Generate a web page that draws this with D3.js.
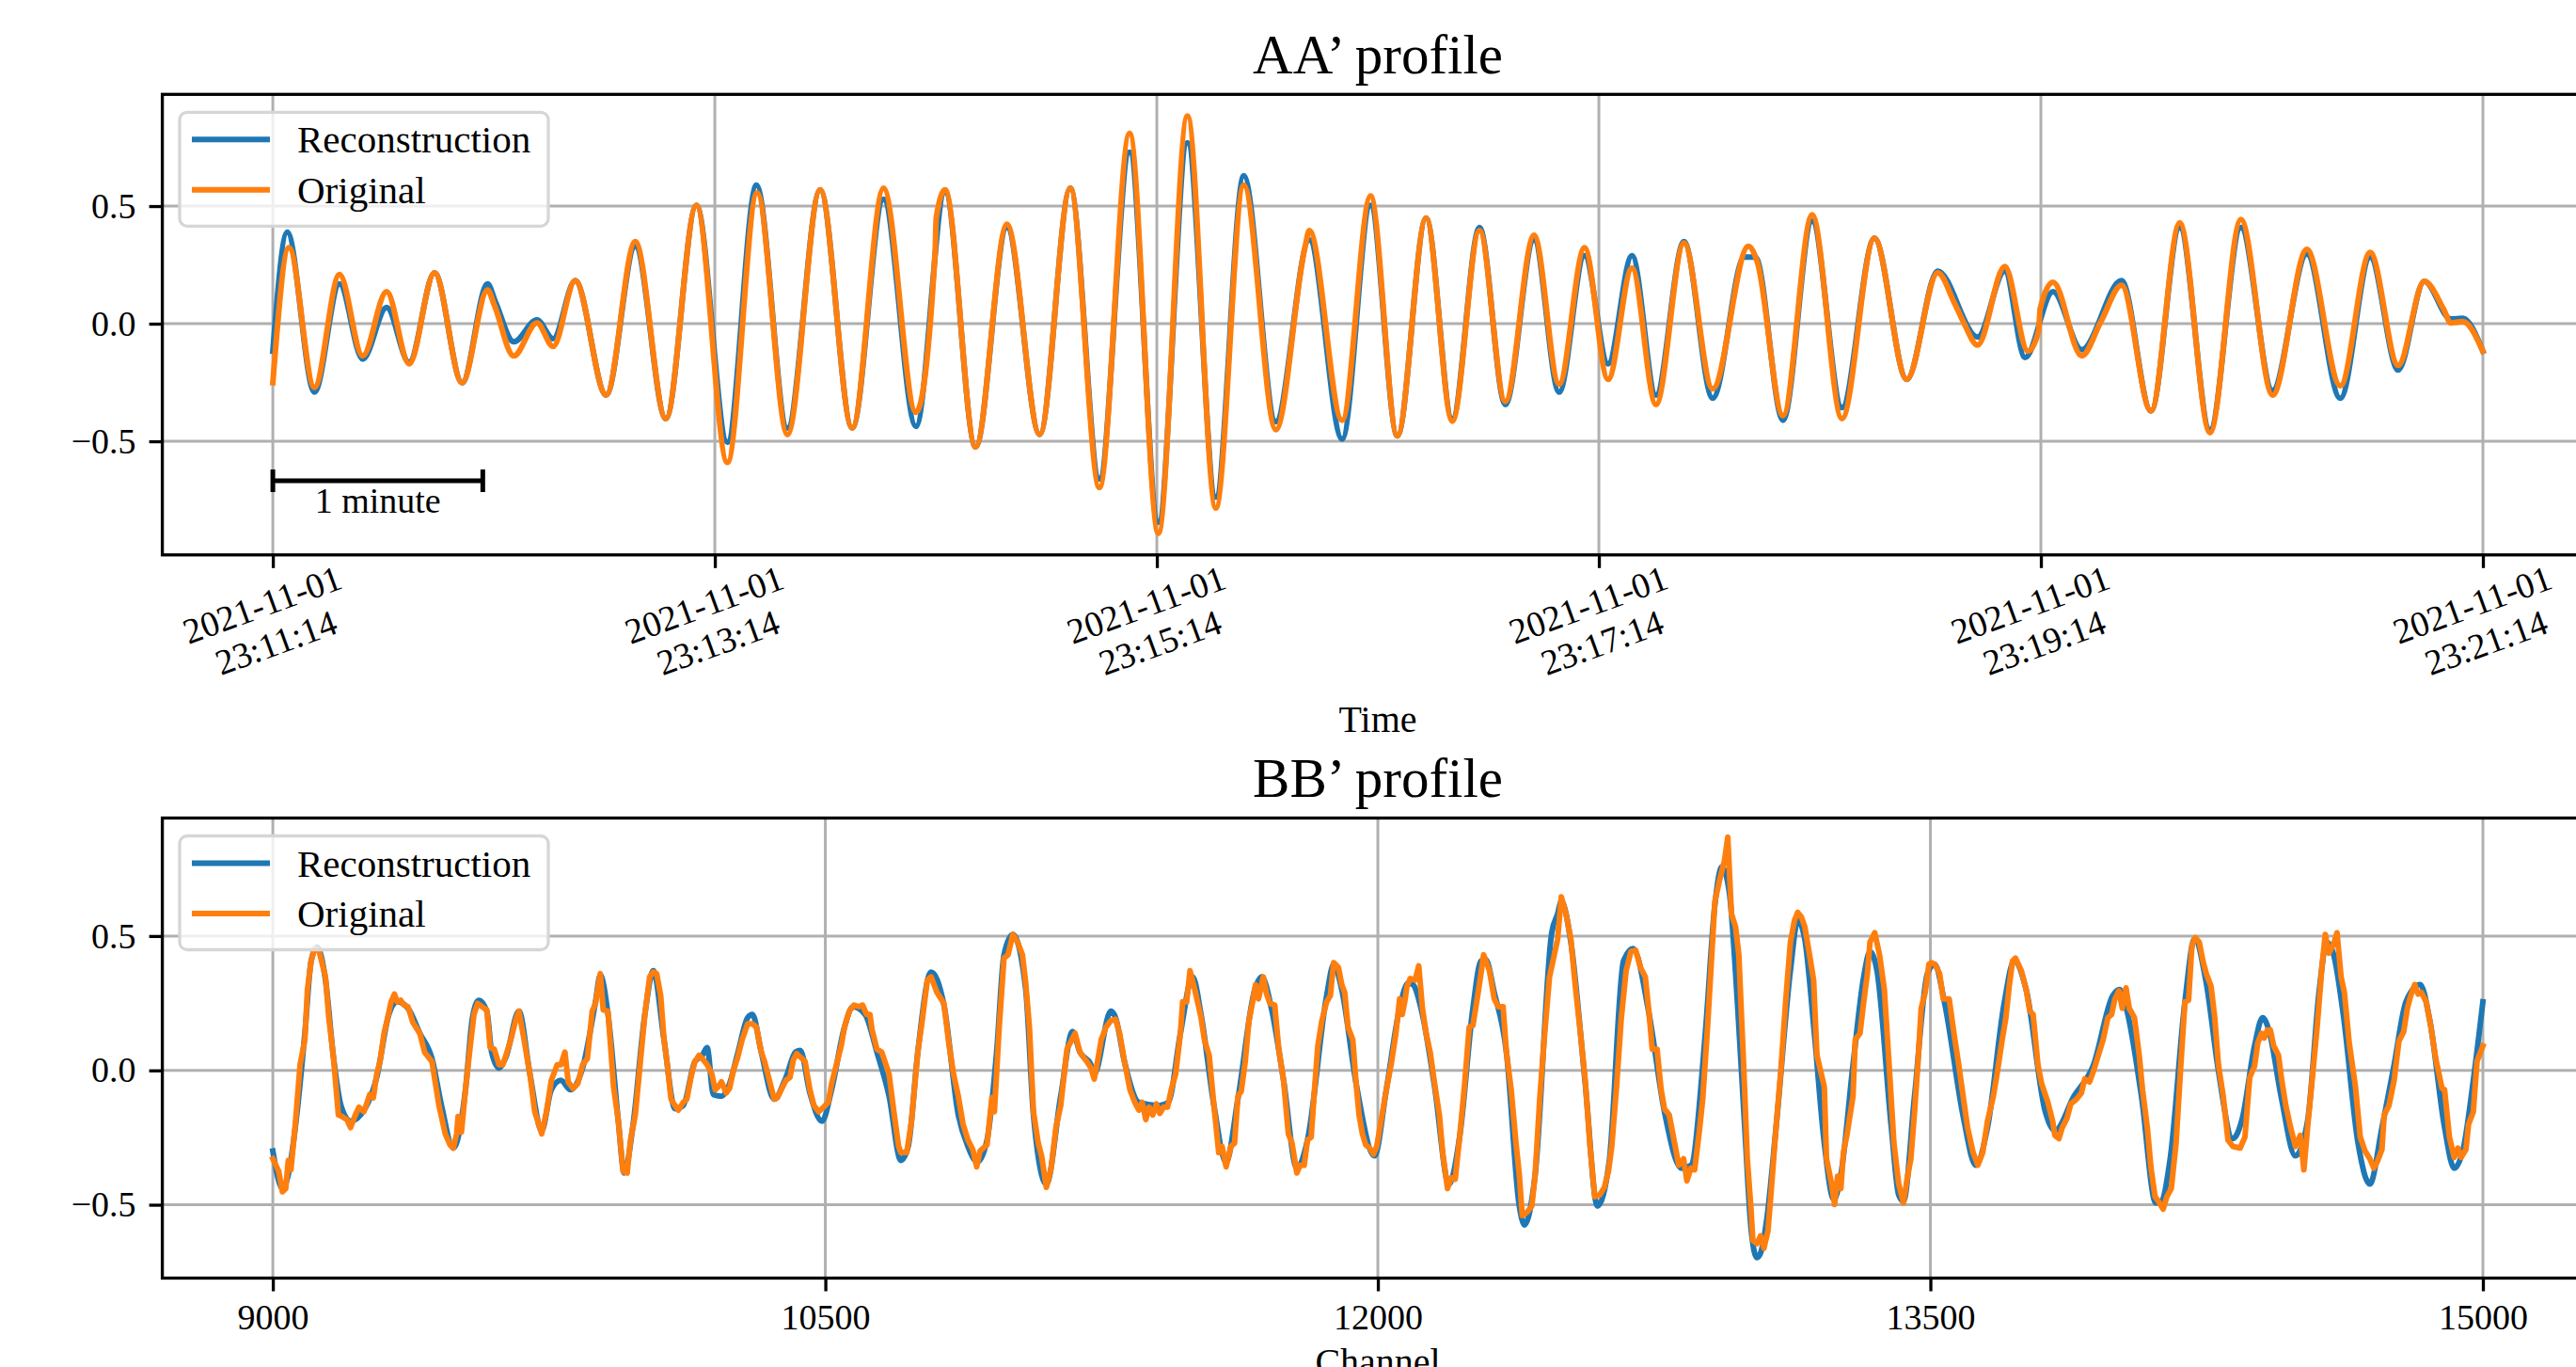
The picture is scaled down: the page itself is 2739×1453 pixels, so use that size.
<!DOCTYPE html>
<html>
<head>
<meta charset="utf-8">
<script src="https://cdn.jsdelivr.net/npm/d3@7"></script>
<style>
  html, body { margin: 0; padding: 0; background: #fff; }
  svg { display: block; }
  text { font-family: 'Liberation Serif', 'Times New Roman', serif; fill: #000; }
</style>
</head>
<body>
<div id="body"></div>
<script>
// ---- data ----
const startTime = new Date(2021, 10, 1, 23, 11, 14);
const seriesNames = ['Reconstruction', 'Original'];
const seriesColors = ['#1f77b4', '#ff7f0e'];
const yTickValues = [-0.5, 0, 0.5];
const aaTickSeconds = [0, 120, 240, 360, 480, 600];
const bbTickChannels = [9000, 10500, 12000, 13500, 15000];
const scaleBarSeconds = 57;
const scaleBarLabel = '1 minute';

// AA' profile: [seconds after start, amplitude]
const aaOriginal = [[0,-0.251],[4.4,0.323],[11.3,-0.271],[18.1,0.209],[24.4,-0.137],[30.9,0.136],[37.0,-0.171],[43.9,0.216],[51.4,-0.251],[58.3,0.143],[60.2,0.076],[65.4,-0.137],[71.7,0.003],[76.1,-0.097],[82.1,0.183],[90.5,-0.303],[98.4,0.349],[106.7,-0.404],[115.0,0.503],[123.4,-0.590],[131.5,0.556],[139.7,-0.472],[148.6,0.569],[157.3,-0.444],[165.8,0.576],[174.6,-0.377],[179.8,0.303],[180.1,0.449],[182.5,0.569],[190.8,-0.524],[199.3,0.423],[208.2,-0.471],[216.5,0.576],[224.4,-0.697],[232.6,0.809],[240.4,-0.891],[248.3,0.883],[256.0,-0.784],[263.6,0.589],[272.3,-0.451],[280.1,0.316],[281.4,0.396],[290.3,-0.411],[298.0,0.543],[305.3,-0.477],[313.1,0.449],[320.2,-0.415],[327.6,0.396],[334.6,-0.331],[342.4,0.376],[349.2,-0.257],[356.1,0.323],[362.5,-0.237],[369.0,0.236],[375.5,-0.344],[383.1,0.343],[390.9,-0.277],[400.6,0.329],[403.0,0.263],[410.0,-0.391],[417.9,0.463],[426.0,-0.404],[434.8,0.363],[443.6,-0.237],[452.0,0.216],[456.5,0.089],[459.1,0.003],[462.8,-0.091],[470.2,0.243],[476.5,-0.117],[479.4,-0.03],[479.8,0.063],[483.3,0.176],[491.1,-0.137],[496.3,0.009],[501.9,0.163],[509.9,-0.371],[517.7,0.429],[525.9,-0.464],[534.3,0.443],[542.9,-0.304],[552.2,0.316],[561.3,-0.264],[569.4,0.303],[577.0,-0.177],[584.1,0.180],[589.3,0.063],[591.3,0.003],[594.5,0.009],[600,-0.117]];

const aaReconstruction = [[0,-0.117],[3.9,0.389],[11.3,-0.291],[18.1,0.169],[24.4,-0.151],[30.9,0.069],[37.0,-0.164],[43.9,0.216],[51.4,-0.251],[58.3,0.169],[60.5,0.09],[65.4,-0.077],[71.7,0.016],[76.1,-0.064],[82.1,0.183],[90.5,-0.303],[98.4,0.329],[106.7,-0.404],[115.0,0.503],[123.4,-0.504],[131.3,0.589],[139.7,-0.444],[148.6,0.569],[157.3,-0.444],[165.8,0.529],[174.6,-0.437],[182.5,0.56],[190.8,-0.524],[199.3,0.41],[208.2,-0.471],[216.5,0.576],[224.4,-0.66],[232.6,0.729],[240.4,-0.844],[248.3,0.769],[256.0,-0.737],[263.6,0.629],[272.3,-0.417],[281.4,0.356],[290.3,-0.491],[298.0,0.503],[305.3,-0.477],[313.1,0.449],[320.2,-0.405],[327.6,0.409],[334.6,-0.344],[342.4,0.356],[349.2,-0.291],[356.1,0.289],[362.5,-0.171],[369.0,0.289],[375.5,-0.304],[383.1,0.349],[390.9,-0.317],[399.5,0.283],[402.5,0.283],[410.0,-0.411],[417.9,0.436],[426.0,-0.357],[434.8,0.363],[443.6,-0.237],[452.0,0.223],[462.8,-0.057],[470.2,0.223],[475.7,-0.144],[483.3,0.136],[491.1,-0.111],[501.9,0.183],[509.9,-0.371],[517.7,0.409],[525.9,-0.451],[534.3,0.409],[542.9,-0.284],[552.2,0.296],[561.3,-0.317],[569.4,0.283],[577.0,-0.197],[584.1,0.180],[591.3,0.02],[594.5,0.023],[600,-0.117]];

// BB' profile: [channel, amplitude]
const bbOriginal = [[9000,-0.329],[9016,-0.376],[9026,-0.452],[9035,-0.440],[9042,-0.335],[9049,-0.370],[9061,-0.201],[9074,0.021],[9087,0.114],[9094,0.301],[9104,0.407],[9113,0.453],[9126,0.442],[9143,0.348],[9152,0.196],[9165,0.044],[9178,-0.166],[9188,-0.172],[9201,-0.183],[9211,-0.213],[9224,-0.166],[9234,-0.137],[9247,-0.154],[9256,-0.119],[9263,-0.090],[9273,-0.102],[9282,-0.014],[9291,0.033],[9302,0.138],[9312,0.196],[9321,0.255],[9330,0.284],[9338,0.255],[9347,0.261],[9356,0.243],[9367,0.237],[9380,0.179],[9399,0.138],[9412,0.068],[9432,0.033],[9451,-0.131],[9468,-0.236],[9481,-0.277],[9490,-0.289],[9499,-0.236],[9503,-0.172],[9512,-0.230],[9523,-0.072],[9536,0.091],[9546,0.208],[9556,0.249],[9568,0.237],[9581,0.225],[9590,0.085],[9601,0.079],[9614,0.021],[9624,0.021],[9633,0.056],[9646,0.114],[9659,0.185],[9668,0.220],[9679,0.138],[9698,-0.014],[9711,-0.154],[9730,-0.236],[9743,-0.154],[9756,-0.037],[9772,0.021],[9782,0.021],[9793,0.068],[9802,-0.043],[9815,-0.067],[9828,-0.049],[9841,0.021],[9854,0.044],[9867,0.220],[9876,0.249],[9889,0.360],[9897,0.225],[9910,0.220],[9925,-0.061],[9938,-0.189],[9951,-0.376],[9962,-0.382],[9971,-0.259],[9984,-0.166],[9997,0.021],[10010,0.208],[10023,0.348],[10033,0.366],[10042,0.360],[10053,0.278],[10062,0.114],[10071,0.021],[10081,-0.107],[10092,-0.131],[10101,-0.148],[10114,-0.119],[10124,-0.107],[10136,-0.020],[10146,0.033],[10157,0.056],[10166,0.044],[10179,0.021],[10192,-0.014],[10201,-0.072],[10209,-0.061],[10218,-0.043],[10231,-0.084],[10240,-0.067],[10250,-0.002],[10261,0.044],[10274,0.114],[10289,0.173],[10302,0.173],[10313,0.161],[10326,0.068],[10335,0.033],[10348,-0.037],[10361,-0.107],[10370,-0.102],[10380,-0.072],[10393,-0.037],[10404,-0.026],[10413,0.039],[10422,0.062],[10432,0.050],[10445,0.033],[10458,-0.072],[10469,-0.131],[10482,-0.154],[10495,-0.137],[10508,-0.119],[10517,-0.049],[10530,0.021],[10543,0.091],[10552,0.161],[10565,0.220],[10578,0.243],[10591,0.237],[10601,0.243],[10612,0.208],[10621,0.208],[10627,0.150],[10640,0.079],[10653,0.068],[10673,-0.014],[10686,-0.154],[10699,-0.283],[10705,-0.306],[10721,-0.306],[10734,-0.189],[10751,0.068],[10764,0.196],[10777,0.336],[10787,0.348],[10803,0.290],[10822,0.249],[10835,0.103],[10848,-0.014],[10861,-0.096],[10874,-0.201],[10887,-0.259],[10900,-0.294],[10911,-0.359],[10920,-0.300],[10929,-0.289],[10939,-0.277],[10952,-0.102],[10959,-0.154],[10972,0.161],[10985,0.418],[10996,0.430],[11009,0.506],[11022,0.477],[11035,0.430],[11044,0.325],[11054,0.161],[11065,-0.154],[11078,-0.271],[11087,-0.318],[11100,-0.435],[11113,-0.364],[11126,-0.213],[11139,-0.131],[11156,0.079],[11165,0.103],[11178,0.138],[11191,0.068],[11200,0.050],[11210,0.033],[11221,0.009],[11230,-0.032],[11239,0.033],[11249,0.114],[11262,0.161],[11275,0.185],[11288,0.190],[11299,0.138],[11312,0.033],[11327,-0.072],[11340,-0.119],[11351,-0.148],[11360,-0.119],[11370,-0.183],[11379,-0.137],[11389,-0.166],[11399,-0.125],[11408,-0.160],[11418,-0.137],[11429,-0.137],[11439,-0.072],[11451,-0.014],[11464,0.138],[11470,0.255],[11481,0.255],[11490,0.371],[11503,0.301],[11520,0.196],[11529,0.114],[11542,0.056],[11555,-0.131],[11568,-0.306],[11577,-0.283],[11588,-0.359],[11601,-0.283],[11611,-0.271],[11620,-0.096],[11629,-0.078],[11640,0.033],[11650,0.185],[11660,0.255],[11668,0.319],[11676,0.266],[11689,0.348],[11698,0.284],[11707,0.249],[11720,0.243],[11731,0.079],[11744,-0.037],[11757,-0.236],[11767,-0.271],[11780,-0.382],[11789,-0.353],[11800,-0.353],[11809,-0.259],[11819,-0.248],[11828,-0.072],[11837,0.091],[11848,0.185],[11861,0.255],[11871,0.278],[11880,0.401],[11893,0.383],[11902,0.319],[11910,0.290],[11919,0.161],[11932,0.114],[11941,-0.049],[11949,-0.166],[11958,-0.236],[11967,-0.277],[11978,-0.289],[11988,-0.312],[11997,-0.283],[12010,-0.178],[12023,-0.072],[12036,0.021],[12049,0.138],[12059,0.266],[12066,0.208],[12073,0.255],[12079,0.313],[12088,0.342],[12101,0.336],[12111,0.389],[12121,0.231],[12131,0.138],[12142,0.068],[12154,-0.049],[12167,-0.166],[12176,-0.306],[12189,-0.440],[12199,-0.400],[12210,-0.405],[12222,-0.248],[12235,-0.061],[12248,0.161],[12258,0.167],[12271,0.278],[12280,0.360],[12287,0.430],[12303,0.371],[12316,0.266],[12327,0.237],[12340,0.237],[12349,0.068],[12362,-0.072],[12375,-0.271],[12384,-0.388],[12392,-0.540],[12405,-0.528],[12418,-0.505],[12427,-0.388],[12440,-0.096],[12453,0.138],[12466,0.348],[12479,0.430],[12488,0.488],[12498,0.646],[12511,0.582],[12524,0.488],[12537,0.301],[12550,0.138],[12563,-0.037],[12576,-0.283],[12589,-0.470],[12602,-0.464],[12615,-0.435],[12626,-0.376],[12635,-0.283],[12648,-0.061],[12661,0.196],[12674,0.371],[12687,0.442],[12700,0.447],[12713,0.383],[12726,0.348],[12735,0.231],[12745,0.079],[12758,0.079],[12769,-0.072],[12778,-0.143],[12791,-0.166],[12804,-0.259],[12817,-0.353],[12830,-0.329],[12839,-0.411],[12850,-0.364],[12860,-0.370],[12873,-0.224],[12882,-0.107],[12895,0.161],[12904,0.371],[12915,0.629],[12928,0.710],[12941,0.780],[12950,0.868],[12960,0.582],[12971,0.535],[12980,0.430],[12993,0.021],[13003,-0.329],[13013,-0.516],[13018,-0.633],[13029,-0.645],[13039,-0.616],[13048,-0.662],[13059,-0.598],[13068,-0.446],[13081,-0.213],[13094,-0.002],[13107,0.255],[13120,0.477],[13131,0.558],[13140,0.588],[13150,0.570],[13159,0.535],[13172,0.430],[13183,0.336],[13192,0.056],[13212,-0.061],[13218,-0.329],[13231,-0.417],[13240,-0.499],[13248,-0.394],[13257,-0.440],[13264,-0.306],[13274,-0.236],[13290,-0.096],[13296,0.114],[13309,0.138],[13319,0.255],[13329,0.360],[13336,0.477],[13349,0.512],[13362,0.430],[13375,0.301],[13388,0.021],[13401,-0.271],[13414,-0.423],[13427,-0.493],[13436,-0.411],[13447,-0.329],[13457,-0.154],[13466,0.021],[13475,0.231],[13486,0.290],[13496,0.395],[13503,0.401],[13512,0.395],[13525,0.360],[13535,0.266],[13551,0.266],[13564,0.138],[13577,0.021],[13590,-0.107],[13601,-0.213],[13616,-0.306],[13629,-0.353],[13642,-0.306],[13655,-0.189],[13671,-0.096],[13681,-0.014],[13695,0.114],[13705,0.196],[13714,0.313],[13723,0.407],[13731,0.418],[13747,0.371],[13760,0.301],[13770,0.220],[13779,0.208],[13792,0.021],[13802,-0.049],[13819,-0.119],[13832,-0.189],[13838,-0.242],[13849,-0.254],[13858,-0.213],[13871,-0.178],[13881,-0.125],[13897,-0.107],[13910,-0.084],[13919,-0.032],[13932,-0.043],[13943,-0.002],[13956,0.056],[13969,0.114],[13982,0.196],[13992,0.208],[14001,0.266],[14012,0.296],[14021,0.231],[14031,0.307],[14040,0.231],[14054,0.196],[14067,0.056],[14076,-0.072],[14089,-0.213],[14099,-0.364],[14110,-0.470],[14119,-0.487],[14132,-0.516],[14142,-0.470],[14154,-0.440],[14167,-0.271],[14180,0.021],[14191,0.255],[14201,0.261],[14210,0.465],[14219,0.494],[14230,0.477],[14240,0.407],[14249,0.360],[14262,0.313],[14272,0.196],[14282,0.021],[14295,-0.096],[14308,-0.259],[14321,-0.283],[14341,-0.289],[14354,-0.248],[14367,-0.026],[14380,0.015],[14389,0.103],[14399,0.138],[14406,0.120],[14415,0.150],[14423,0.150],[14432,0.091],[14445,0.056],[14454,-0.037],[14465,-0.131],[14478,-0.213],[14491,-0.283],[14504,-0.242],[14514,-0.370],[14524,-0.213],[14537,-0.026],[14550,0.161],[14563,0.383],[14572,0.506],[14582,0.436],[14595,0.471],[14604,0.512],[14615,0.348],[14624,0.290],[14637,0.103],[14654,-0.061],[14667,-0.248],[14680,-0.300],[14693,-0.329],[14704,-0.364],[14713,-0.341],[14726,-0.294],[14732,-0.166],[14745,-0.131],[14759,-0.037],[14772,0.109],[14785,0.144],[14795,0.231],[14804,0.278],[14815,0.319],[14824,0.284],[14833,0.290],[14846,0.255],[14859,0.161],[14872,0.044],[14889,-0.067],[14896,-0.072],[14909,-0.248],[14922,-0.324],[14932,-0.289],[14941,-0.324],[14954,-0.294],[14961,-0.201],[14974,-0.154],[14984,0.033],[15000,0.091]];

const bbReconstruction = [[9000,-0.300],[9026,-0.440],[9042,-0.388],[9061,-0.213],[9087,0.138],[9104,0.407],[9120,0.459],[9143,0.336],[9165,0.044],[9185,-0.131],[9211,-0.189],[9250,-0.143],[9282,-0.026],[9315,0.208],[9338,0.255],[9367,0.231],[9399,0.138],[9432,0.044],[9458,-0.131],[9490,-0.289],[9523,-0.072],[9542,0.196],[9559,0.261],[9581,0.220],[9594,0.068],[9614,0.009],[9633,0.050],[9668,0.220],[9698,-0.014],[9730,-0.224],[9756,-0.072],[9782,-0.037],[9808,-0.072],[9841,0.009],[9876,0.255],[9889,0.354],[9910,0.208],[9938,-0.189],[9954,-0.382],[9977,-0.213],[10010,0.208],[10033,0.371],[10062,0.114],[10092,-0.143],[10114,-0.131],[10146,0.033],[10166,0.056],[10179,0.085],[10196,-0.090],[10218,-0.096],[10237,-0.061],[10263,0.068],[10289,0.196],[10302,0.208],[10326,0.068],[10361,-0.107],[10393,-0.026],[10419,0.068],[10432,0.074],[10458,-0.084],[10491,-0.189],[10517,-0.072],[10552,0.161],[10575,0.237],[10608,0.208],[10640,0.068],[10673,-0.096],[10705,-0.335],[10725,-0.283],[10751,0.068],[10787,0.366],[10822,0.243],[10861,-0.166],[10887,-0.283],[10913,-0.341],[10939,-0.259],[10965,0.068],[10985,0.430],[11009,0.506],[11044,0.301],[11065,-0.166],[11100,-0.423],[11139,-0.096],[11171,0.144],[11191,0.068],[11221,0.021],[11230,-0.014],[11275,0.220],[11288,0.196],[11312,0.033],[11351,-0.119],[11405,-0.131],[11431,-0.119],[11464,0.138],[11497,0.348],[11520,0.208],[11555,-0.131],[11588,-0.341],[11620,-0.107],[11666,0.301],[11685,0.348],[11711,0.231],[11744,-0.037],[11780,-0.364],[11809,-0.259],[11861,0.278],[11880,0.395],[11902,0.301],[11941,-0.049],[11991,-0.318],[12023,-0.072],[12059,0.231],[12082,0.325],[12095,0.319],[12121,0.208],[12154,-0.061],[12193,-0.423],[12222,-0.248],[12258,0.231],[12280,0.407],[12293,0.412],[12316,0.290],[12349,0.068],[12384,-0.505],[12398,-0.575],[12427,-0.388],[12472,0.512],[12488,0.582],[12498,0.629],[12524,0.477],[12563,-0.049],[12596,-0.505],[12628,-0.341],[12667,0.407],[12693,0.453],[12735,0.220],[12778,-0.154],[12824,-0.364],[12850,-0.353],[12889,0.138],[12915,0.617],[12934,0.757],[12954,0.664],[12976,0.255],[12996,-0.213],[13013,-0.586],[13029,-0.697],[13039,-0.680],[13055,-0.563],[13081,-0.213],[13120,0.371],[13140,0.558],[13159,0.488],[13185,0.138],[13212,-0.271],[13238,-0.481],[13257,-0.388],[13290,0.021],[13319,0.348],[13336,0.442],[13355,0.371],[13394,-0.213],[13414,-0.464],[13427,-0.487],[13457,-0.096],[13492,0.360],[13512,0.395],[13538,0.255],[13590,-0.178],[13623,-0.353],[13655,-0.213],[13701,0.255],[13727,0.407],[13760,0.301],[13812,-0.154],[13838,-0.224],[13890,-0.096],[13943,0.021],[13995,0.278],[14014,0.301],[14034,0.220],[14073,-0.096],[14112,-0.493],[14125,-0.493],[14151,-0.329],[14191,0.255],[14217,0.488],[14249,0.325],[14282,-0.002],[14321,-0.254],[14347,-0.178],[14380,0.091],[14402,0.196],[14419,0.150],[14452,-0.096],[14491,-0.318],[14524,-0.189],[14556,0.301],[14576,0.477],[14595,0.430],[14621,0.208],[14661,-0.271],[14693,-0.423],[14726,-0.213],[14759,0.021],[14791,0.255],[14830,0.319],[14856,0.185],[14896,-0.213],[14922,-0.364],[14948,-0.283],[14974,-0.037],[15000,0.255]];

// ---- layout ----
const width = 2739, height = 1453;
const frameLeft = 172.6, frameRight = 2757.5;
const lineWidth = 6;

const svg = d3.select('#body').append('svg')
    .attr('width', width)
    .attr('height', height);

function chart() {
    chart.aa();
    chart.bb();
}

chart.panel = function (p) {
    let g = svg.append('g');
    let x = p.x, y = p.y;

    // grid
    g.append('g').selectAll('line').data(p.xTicks).join('line')
        .attr('x1', d => x(d)).attr('x2', d => x(d))
        .attr('y1', p.top).attr('y2', p.bottom)
        .attr('stroke', '#b0b0b0').attr('stroke-width', 3);
    g.append('g').selectAll('line').data(yTickValues).join('line')
        .attr('x1', frameLeft).attr('x2', frameRight)
        .attr('y1', d => y(d)).attr('y2', d => y(d))
        .attr('stroke', '#b0b0b0').attr('stroke-width', 3);

    // series
    [p.reco, p.orig].forEach(function (data, i) {
        let line = d3.line()
            .x(d => x(p.xValue(d[0])))
            .y(d => y(d[1]))
            .curve(p.curves[i]);
        g.append('path')
            .datum(data)
            .attr('d', line)
            .attr('fill', 'none')
            .attr('stroke', seriesColors[i])
            .attr('stroke-width', lineWidth)
            .attr('stroke-linejoin', 'round')
            .attr('stroke-linecap', 'square');
    });

    // frame
    g.append('rect')
        .attr('x', frameLeft).attr('y', p.top)
        .attr('width', frameRight - frameLeft).attr('height', p.bottom - p.top)
        .attr('fill', 'none').attr('stroke', '#000').attr('stroke-width', 3.3);

    // axes
    let xAxis = g.append('g')
        .attr('transform', `translate(0,${p.bottom})`)
        .call(d3.axisBottom(x).tickValues(p.xTicks).tickFormat(p.xFormat).tickSize(14).tickPadding(14));
    let yAxis = g.append('g')
        .attr('transform', `translate(${frameLeft},0)`)
        .call(d3.axisLeft(y).tickValues(yTickValues).tickFormat(d3.format('.1f')).tickSize(14).tickPadding(14));
    [xAxis, yAxis].forEach(function (a) {
        a.select('.domain').remove();
        a.selectAll('.tick line').attr('stroke', '#000').attr('stroke-width', 3.3);
        a.selectAll('.tick text')
            .attr('fill', '#000')
            .style('font-family', "'Liberation Serif', serif")
            .style('font-size', '38px');
    });

    // title
    g.append('text')
        .attr('x', (frameLeft + frameRight) / 2).attr('y', p.titleY)
        .attr('text-anchor', 'middle')
        .style('font-size', '59px')
        .text(p.title);

    // x label
    g.append('text')
        .attr('x', (frameLeft + frameRight) / 2).attr('y', p.labelY)
        .attr('text-anchor', 'middle')
        .style('font-size', '40px')
        .text(p.xLabel);

    // legend
    let legend = g.append('g').attr('transform', `translate(191,${p.top + 19})`);
    legend.append('rect')
        .attr('width', 392).attr('height', 121).attr('rx', 8)
        .attr('fill', '#fff').attr('fill-opacity', 0.8)
        .attr('stroke', '#d6d6d6').attr('stroke-width', 3.3);
    seriesNames.forEach(function (name, i) {
        let row = legend.append('g').attr('transform', `translate(0,${29 + i * 53.5})`);
        row.append('line')
            .attr('x1', 13).attr('x2', 96)
            .attr('stroke', seriesColors[i]).attr('stroke-width', lineWidth);
        row.append('text')
            .attr('x', 125).attr('y', 14)
            .style('font-size', '41px')
            .text(name);
    });

    return {g: g, xAxis: xAxis};
};

chart.aa = function () {
    let top = 100.3, bottom = 589.8;
    let sec = s => new Date(startTime.getTime() + s * 1000);
    let x = d3.scaleTime().domain([sec(-30), sec(630)]).range([frameLeft, frameRight]);
    let y = d3.scaleLinear().domain([-0.983, 0.975]).range([bottom, top]);
    let fmtDay = d3.timeFormat('%Y-%m-%d'), fmtTime = d3.timeFormat('%H:%M:%S');

    let panel = chart.panel({
        top: top, bottom: bottom, x: x, y: y,
        xValue: sec,
        xTicks: aaTickSeconds.map(sec),
        xFormat: () => '',
        reco: aaReconstruction, orig: aaOriginal,
        curves: [d3.curveMonotoneX, d3.curveMonotoneX],
        title: 'AA\u2019 profile', titleY: 78,
        xLabel: 'Time', labelY: 778
    });

    // two-line rotated date labels
    panel.xAxis.selectAll('.tick text').each(function (d) {
        let t = d3.select(this)
            .attr('y', null).attr('dy', null)
            .attr('text-anchor', 'middle')
            .attr('transform', `translate(0,${675 - bottom}) rotate(-20)`);
        t.append('tspan').attr('x', 0).attr('y', -21.5).text(fmtDay(d));
        t.append('tspan').attr('x', 0).attr('y', 21.5).text(fmtTime(d));
    });

    // 1 minute scale bar
    let x0 = x(sec(0)), x1 = x(sec(scaleBarSeconds)), yBar = 511;
    let bar = panel.g.append('g')
        .attr('stroke', '#000').attr('stroke-width', 5);
    bar.append('line').attr('x1', x0).attr('x2', x1).attr('y1', yBar).attr('y2', yBar);
    bar.append('line').attr('x1', x0).attr('x2', x0).attr('y1', yBar - 12).attr('y2', yBar + 12);
    bar.append('line').attr('x1', x1).attr('x2', x1).attr('y1', yBar - 12).attr('y2', yBar + 12);
    panel.g.append('text')
        .attr('x', (x0 + x1) / 2).attr('y', 545)
        .attr('text-anchor', 'middle')
        .style('font-size', '38px')
        .text(scaleBarLabel);
};

chart.bb = function () {
    let top = 869.5, bottom = 1358.5;
    let x = d3.scaleLinear().domain([8700, 15300]).range([frameLeft, frameRight]);
    let y = d3.scaleLinear().domain([-0.773, 0.939]).range([bottom, top]);

    chart.panel({
        top: top, bottom: bottom, x: x, y: y,
        xValue: d => d,
        xTicks: bbTickChannels,
        xFormat: d3.format('d'),
        reco: bbReconstruction, orig: bbOriginal,
        curves: [d3.curveMonotoneX, d3.curveLinear],
        title: 'BB\u2019 profile', titleY: 847,
        xLabel: 'Channel', labelY: 1461
    });
};

chart();
</script>
</body>
</html>
